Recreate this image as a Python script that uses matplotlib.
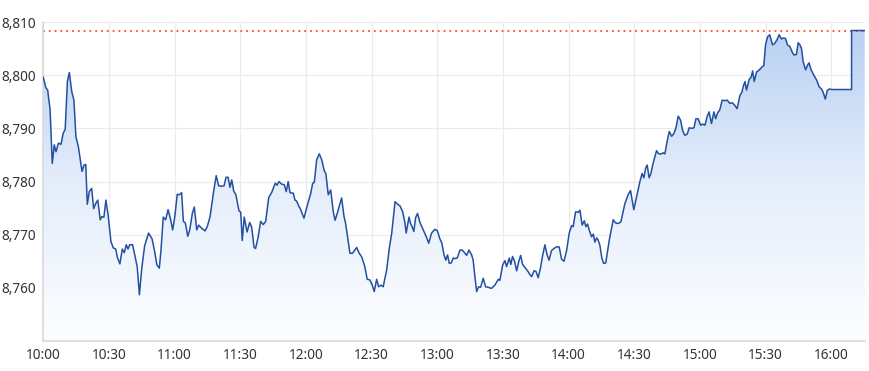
import matplotlib
matplotlib.use("Agg")
import matplotlib.pyplot as plt
import numpy as np
from matplotlib.colors import LinearSegmentedColormap
from matplotlib.ticker import FuncFormatter, FixedLocator

# minutes after 10:00
minutes = [
    0, 1.1, 2.0, 3.1, 4.1, 5.0, 5.8, 6.9, 8.1, 9.1, 10.0, 11.0, 11.9, 13.0, 14.0, 14.9, 16.0,
    17.7, 18.6, 19.4, 20.1, 21.0, 22.1, 23.0, 24.1, 24.9, 26.0, 26.8, 27.7, 28.6, 29.7, 30.9,
    32.0, 33.1, 33.8, 35.0, 36.1, 37.0, 37.9, 38.7, 39.5, 40.8, 42.9, 43.9, 45.0, 46.3, 48.1,
    49.7, 50.7, 51.9, 53.0, 53.8, 54.8, 55.9, 57.0, 58.2, 59.1, 60.0, 61.2, 62.1, 63.2, 64.0,
    64.9, 66.0, 66.9, 68.1, 69.0, 70.1, 71.0, 72.4, 73.9, 74.9, 76.2, 77.7, 79.0, 80.1, 81.5,
    82.6, 83.5, 84.4, 85.3, 86.1, 87.0, 88.0, 89.4, 90.2, 90.9, 91.8, 93.1, 94.3, 95.2, 96.3,
    97.0, 98.2, 99.3, 100.5, 101.6, 103.0, 104.3, 106.0, 106.8, 107.7, 108.9, 110.1, 111.0,
    111.9, 112.7, 114.2, 115.0, 115.8, 116.8, 117.3, 119.1, 120.3, 122.2, 123.1, 123.8, 124.9,
    126.1, 127.2, 128.4, 129.1, 130.2, 131.3, 132.5, 133.3, 134.3, 136.3, 137.4, 138.1, 140.1,
    141.3, 143.2, 144.2, 145.5, 146.9, 148.0, 149.2, 150.2, 151.2, 152.3, 153.2, 154.3, 155.3,
    156.9, 158.1, 159.2, 160.7, 161.7, 163.0, 164.2, 165.2, 165.8, 167.1, 167.8, 168.6, 169.3,
    170.1, 171.0, 172.1, 173.6, 175.1, 176.1, 177.4, 178.9, 180.0, 181.2, 182.1, 183.1, 183.9,
    184.7, 185.5, 186.4, 187.3, 188.1, 189.1, 190.4, 191.4, 192.7, 193.4, 194.5, 195.7, 196.4,
    197.2, 198.0, 198.9, 199.8, 201.0, 202.1, 203.3, 204.8, 206.3, 207.9, 208.6, 209.9, 210.9,
    211.7, 212.9, 213.6, 214.4, 215.3, 216.3, 217.2, 218.1, 219.0, 220.1, 221.6, 222.3, 223.1,
    224.2, 225.1, 226.1, 227.2, 228.1, 229.2, 230.2, 231.1, 232.2, 233.3, 234.5, 235.7, 236.8,
    237.9, 239.1, 240.3, 241.4, 242.1, 243.2, 244.4, 245.2, 246.2, 247.2, 247.9, 248.7, 249.4,
    250.5, 251.3, 252.0, 252.8, 253.5, 254.3, 255.2, 256.0, 257.0, 258.6, 260.4, 261.5, 262.7,
    263.9, 265.7, 267.2, 268.3, 269.8, 271.1, 272.6, 273.6, 274.4, 275.2, 275.9, 276.8, 277.6,
    278.6, 280.2, 281.2, 282.5, 283.2, 284.0, 285.0, 286.0, 287.1, 288.1, 289.0, 290.1, 291.2,
    292.1, 293.1, 294.2, 295.1, 296.2, 297.3, 298.2, 299.2, 300.3, 301.2, 302.3, 303.3, 304.2,
    305.3, 306.4, 307.2, 308.1, 309.1, 310.2, 311.4, 312.5, 313.7, 314.9, 316.0, 317.0, 318.3,
    319.2, 319.8, 320.6, 321.3, 322.5, 323.4, 324.1, 324.8, 325.9, 326.6, 327.4, 328.5, 329.2,
    330.0, 330.9, 331.9, 333.2, 334.2, 335.3, 336.2, 337.3, 338.2, 339.1, 340.0, 341.1, 342.1,
    343.0, 344.1, 344.9, 345.7, 346.4, 347.2, 348.3, 349.2, 349.9, 350.8, 351.8, 353.3, 354.5,
    355.6, 356.3, 357.3, 358.2, 359.1, 360.2, 369.3, 369.3, 375.3,
]

prices = [
    8799.6, 8797.7, 8797.2, 8793.5, 8783.4, 8786.9, 8785.6, 8787.2, 8787.0, 8789.1, 8789.8,
    8798.8, 8800.5, 8796.9, 8795.3, 8788.4, 8786.6, 8781.9, 8783.1, 8783.2, 8775.7, 8778.1,
    8778.7, 8774.9, 8776.0, 8776.5, 8772.8, 8773.4, 8773.3, 8776.5, 8773.4, 8768.7, 8767.5,
    8767.3, 8765.8, 8764.5, 8767.3, 8766.6, 8768.1, 8767.3, 8768.1, 8768.1, 8764.0, 8758.7,
    8763.7, 8767.9, 8770.3, 8769.2, 8767.2, 8764.3, 8763.7, 8767.2, 8773.3, 8772.8, 8774.7,
    8772.8, 8770.9, 8773.1, 8777.6, 8777.5, 8777.9, 8772.5, 8772.2, 8769.7, 8770.9, 8774.0,
    8775.2, 8770.9, 8771.8, 8771.2, 8770.7, 8771.5, 8773.4, 8777.8, 8781.1, 8779.2, 8779.1,
    8779.2, 8780.8, 8780.8, 8778.9, 8780.3, 8778.2, 8777.5, 8774.5, 8774.2, 8768.9, 8773.3,
    8770.5, 8772.3, 8771.4, 8767.6, 8767.4, 8769.6, 8772.5, 8771.9, 8772.5, 8777.0, 8777.9,
    8779.7, 8779.3, 8780.0, 8779.5, 8779.4, 8778.1, 8780.0, 8777.9, 8777.8, 8776.5, 8776.3,
    8775.3, 8775.0, 8773.1, 8775.0, 8777.8, 8779.7, 8779.8, 8784.1, 8785.2, 8784.1, 8782.0,
    8781.5, 8777.5, 8778.4, 8774.3, 8772.7, 8774.0, 8776.9, 8773.4, 8772.2, 8766.5, 8766.5,
    8767.6, 8766.6, 8765.8, 8764.0, 8761.6, 8761.5, 8760.6, 8759.3, 8761.6, 8760.2, 8760.5,
    8760.2, 8763.4, 8767.5, 8770.3, 8776.2, 8775.8, 8775.4, 8774.3, 8772.3, 8770.3, 8773.3,
    8772.1, 8771.4, 8770.6, 8773.2, 8774.0, 8772.3, 8770.9, 8769.5, 8768.4, 8770.3, 8771.0,
    8770.8, 8769.2, 8768.4, 8766.2, 8765.2, 8766.2, 8764.6, 8764.7, 8765.6, 8765.5, 8765.6,
    8767.1, 8767.1, 8766.5, 8766.1, 8767.1, 8766.2, 8765.2, 8762.1, 8759.3, 8760.2, 8760.1,
    8761.8, 8760.2, 8760.1, 8759.9, 8760.5, 8761.6, 8761.4, 8764.3, 8765.1, 8764.0, 8765.6,
    8764.4, 8765.9, 8765.0, 8763.2, 8764.9, 8766.1, 8764.4, 8763.8, 8763.0, 8762.5, 8762.1,
    8763.2, 8763.1, 8761.9, 8763.8, 8766.0, 8768.1, 8766.2, 8765.2, 8767.0, 8767.4, 8767.7,
    8767.7, 8765.4, 8765.0, 8767.0, 8770.3, 8771.7, 8771.5, 8774.3, 8774.2, 8774.6, 8771.8,
    8772.6, 8771.5, 8772.0, 8770.9, 8769.6, 8770.1, 8768.6, 8769.4, 8769.0, 8768.0, 8765.6,
    8764.6, 8764.7, 8769.0, 8772.8, 8772.2, 8772.1, 8772.4, 8775.8, 8777.5, 8778.3, 8774.7,
    8777.2, 8780.0, 8781.5, 8780.7, 8782.5, 8783.1, 8780.7, 8781.5, 8783.4, 8785.8, 8785.2,
    8785.2, 8785.4, 8785.2, 8787.5, 8789.4, 8788.5, 8789.0, 8790.0, 8792.3, 8791.5, 8789.6,
    8788.7, 8788.9, 8790.1, 8790.0, 8790.1, 8791.8, 8791.8, 8790.6, 8790.8, 8790.6, 8792.2,
    8793.1, 8790.9, 8793.1, 8791.8, 8792.9, 8793.5, 8795.3, 8795.2, 8795.3, 8794.7, 8794.8,
    8794.3, 8793.7, 8796.2, 8796.8, 8797.9, 8798.8, 8797.2, 8799.2, 8799.6, 8800.8, 8798.8,
    8800.6, 8800.8, 8801.1, 8801.6, 8801.8, 8805.7, 8807.2, 8807.6, 8805.7, 8806.0, 8806.7,
    8807.6, 8806.8, 8807.0, 8806.9, 8805.7, 8805.4, 8804.4, 8803.8, 8803.9, 8806.1, 8805.7,
    8805.1, 8802.5, 8801.0, 8801.9, 8802.3, 8801.0, 8800.2, 8799.1, 8797.8, 8797.4, 8796.8,
    8795.5, 8797.1, 8797.4, 8797.3, 8797.3, 8808.4, 8808.4,
]

ref_level = 8808.4
y_ticks = [8760, 8770, 8780, 8790, 8800, 8810]
x_tick_minutes = [0, 30, 60, 90, 120, 150, 180, 210, 240, 270, 300, 330, 360]
y_min, y_max = 8750, 8810
x_max = 375.3

plt.rcParams['font.family'] = ['Noto Sans', 'DejaVu Sans']

fig = plt.figure(figsize=(8.70, 3.71), dpi=100)
ax = fig.add_axes([43.3 / 870, 1 - 341 / 371, (864.7 - 43.3) / 870, (341 - 22) / 371])

x = np.array(minutes)
y = np.array(prices)

# gradient fill
cmap = LinearSegmentedColormap.from_list("g", ["#fdfeff", "#e4edfb", "#b7cff2"])
grad = np.linspace(0, 1, 256).reshape(-1, 1)
im = ax.imshow(grad, extent=[0, x_max, y_min, y_max], origin='lower', aspect='auto',
               cmap=cmap, zorder=1)
poly = ax.fill_between(x, y, y_min, facecolor='none', edgecolor='none', zorder=1)
clip = poly.get_paths()[0]
im.set_clip_path(clip, transform=ax.transData)

ax.plot(x, y, color='#2350a0', lw=1.1, zorder=3, solid_joinstyle='round')
ax.axhline(ref_level, color='#ff2a1a', lw=1.1, linestyle=(0, (1.2, 2.6)), zorder=2)

ax.set_xlim(0, x_max)
ax.set_ylim(y_min, y_max)

ax.yaxis.set_major_locator(FixedLocator(y_ticks))
ax.yaxis.set_major_formatter(FuncFormatter(lambda v, p: f"{int(round(v)):,}"))
ax.xaxis.set_major_locator(FixedLocator(x_tick_minutes))
ax.xaxis.set_major_formatter(FuncFormatter(
    lambda v, p: f"{10 + int(v) // 60}:{int(v) % 60:02d}"))

ax.grid(True, color='#ebebeb', lw=0.9, zorder=0)
ax.set_axisbelow(True)
for s in ['top', 'right']:
    ax.spines[s].set_visible(False)
ax.spines['left'].set_color('#d9d9d9')
ax.spines['bottom'].set_color('#d9d9d9')
ax.spines['left'].set_linewidth(1.2)
ax.spines['bottom'].set_linewidth(1.2)
ax.tick_params(axis='both', length=0, labelsize=9.8, colors='#333333')
ax.tick_params(axis='y', pad=5)
ax.tick_params(axis='x', pad=5)

fig.savefig("out.png", dpi=100)
